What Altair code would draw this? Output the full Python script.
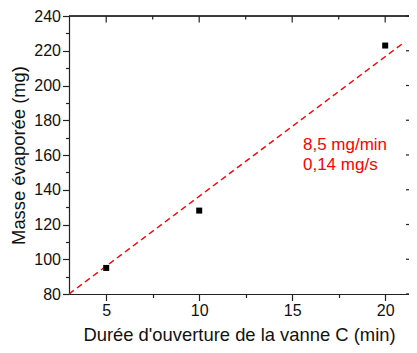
import altair as alt
import pandas as pd

# data
durations = [5, 10, 20]
masses = [95, 128, 223]
fit_x = [3.0, 21.07]
fit_y = [80.0, 225.2]
note_lines = ["8,5 mg/min", "0,14 mg/s"]
note_x = [15.58, 15.58]
note_y = [166.0, 154.0]
x_ticks = [5, 7.5, 10, 12.5, 15, 17.5, 20]
x_major = [5, 10, 15, 20]
x_minor = [7.5, 12.5, 17.5]
y_ticks = [80, 90, 100, 110, 120, 130, 140, 150, 160, 170, 180, 190, 200, 210, 220, 230, 240]
y_major = [80, 100, 120, 140, 160, 180, 200, 220, 240]

W, H = 340, 278
FONT = "Liberation Sans"

pts = pd.DataFrame({"x": durations, "y": masses})
fit = pd.DataFrame({"x": fit_x, "y": fit_y})
notes = pd.DataFrame({"x": note_x, "y": note_y, "t": note_lines})
xmaj = pd.DataFrame({"x": x_major})
xmin = pd.DataFrame({"x": x_minor})
yt = pd.DataFrame({"y": y_major})

xscale = alt.Scale(domain=[3, 21.28], nice=False, zero=False)
yscale = alt.Scale(domain=[80, 240], nice=False, zero=False)

xaxis = alt.Axis(
    title="Durée d'ouverture de la vanne C (min)",
    values=x_ticks,
    labelExpr="datum.value % 5 === 0 ? datum.label : ''",
    tickSize={"condition": {"test": "datum.value % 5 === 0", "value": 6.5}, "value": 3.5},
    grid=False, domainColor="#222", tickColor="#222", domainWidth=1.2, tickWidth=1.2,
    labelFontSize=16, labelColor="#111", labelPadding=2, labelFlush=False,
    titleFontSize=18.4, titleFontWeight="normal", titleColor="#111", titlePadding=7,
)
yaxis = alt.Axis(
    title="Masse évaporée (mg)",
    values=y_ticks,
    labelExpr="datum.value % 20 === 0 ? datum.label : ''",
    tickSize={"condition": {"test": "datum.value % 20 === 0", "value": 6.5}, "value": 3.5},
    grid=False, domainColor="#222", tickColor="#222", domainWidth=1.2, tickWidth=1.2,
    labelFontSize=16, labelColor="#111", labelPadding=2, labelFlush=False,
    titleFontSize=18.4, titleFontWeight="normal", titleColor="#111", titlePadding=5,
)

X = alt.X("x:Q", scale=xscale, axis=xaxis)
Y = alt.Y("y:Q", scale=yscale, axis=yaxis)

line = alt.Chart(fit).mark_line(color="#ff0000", strokeDash=[6, 4], strokeWidth=1.4, clip=True).encode(x=X, y=Y)
points = alt.Chart(pts).mark_square(color="black", size=36, opacity=1).encode(x=X, y=Y)
text = alt.Chart(notes).mark_text(color="#ff0000", fontSize=17, align="left", baseline="middle", font=FONT).encode(x=X, y=Y, text="t:N")
top = alt.Chart(pts).mark_rule(color="#222", strokeWidth=1.2).encode(
    x=alt.value(0), x2=alt.value(W), y=alt.value(0))
top_major = alt.Chart(xmaj).mark_rule(color="#222", strokeWidth=1.2).encode(
    x=X, y=alt.value(0), y2=alt.value(6.5))
top_minor = alt.Chart(xmin).mark_rule(color="#222", strokeWidth=1.2).encode(
    x=X, y=alt.value(0), y2=alt.value(3.5))
right_ticks = alt.Chart(yt).mark_rule(color="#222", strokeWidth=1.2).encode(
    y=Y, x=alt.value(W - 3), x2=alt.value(W))

chart = alt.layer(line, points, text, top, top_major, top_minor, right_ticks).properties(
    width=W, height=H,
    autosize=alt.AutoSizeParams(type="none"),
    padding={"left": 61, "top": 8, "right": 0, "bottom": 51},
).configure_view(stroke=None).configure(font=FONT, background="white")

chart.save("out.html", embed_options={"renderer": "svg", "actions": False})
